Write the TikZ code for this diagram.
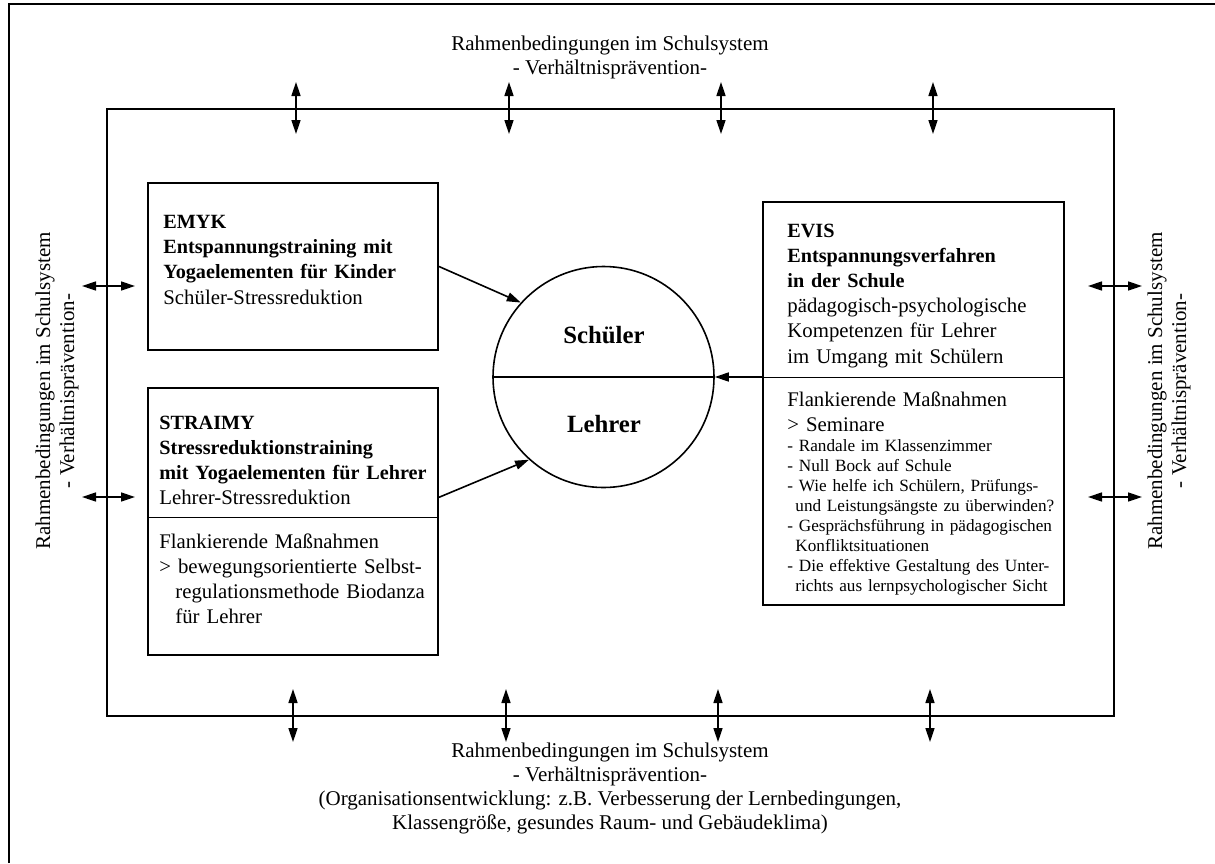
\documentclass[tikz,border=0pt]{standalone}
\usepackage{fontspec}
\setmainfont{Liberation Serif}
\usetikzlibrary{arrows.meta,calc}
\newcommand\myboldtext[1]{{\fontsize{10.1}{12.6}\selectfont\bfseries #1}}
\begin{document}
\begin{tikzpicture}[x=0.5pt,y=-0.5pt,
  tip/.style={-{Triangle[length=7pt,width=4.5pt]}, line width=0.8pt},
  dbl/.style={{Triangle[length=7pt,width=4.5pt]}-{Triangle[length=7pt,width=4.5pt]}, line width=0.8pt},
  box/.style={draw, line width=1pt, inner sep=0pt},
  txt/.style={anchor=base west, inner sep=0pt, text width=#1, align=left, font=\fontsize{10.4}{12.6}\selectfont},
  small/.style={anchor=base west, inner sep=0pt, text width=#1, align=left, font=\fontsize{8.6}{10}\selectfont},
  lbl/.style={align=center, inner sep=0pt, font=\fontsize{10.5}{12}\selectfont},
  divider/.style={line width=0.5pt}
]
\useasboundingbox (0,0) rectangle (1215,863);
% outer border (top and left)
\draw[line width=1.2pt] (9,863) -- (9,4) -- (1215,4);
% inner frame
\node[box, minimum width=503.5pt, minimum height=303.5pt] (frame) at (610.5,412.5) {};
% crossing arrows
\foreach \x in {296,509,721,933} \draw[dbl] (\x,82) -- (\x,134);
\foreach \x in {293,506,718,930} \draw[dbl] (\x,689) -- (\x,742);
\foreach \y in {286,497} \draw[dbl] (82,\y) -- (135,\y);
\foreach \y in {286,497} \draw[dbl] (1088,\y) -- (1142,\y);
% labels
\node[lbl] (toplbl) at (610,57) {Rahmenbedingungen im Schulsystem\\- Verhältnisprävention-};
\node[lbl] (botlbl) at (610,788) {Rahmenbedingungen im Schulsystem\\- Verhältnisprävention-\\(Organisationsentwicklung: z.B. Verbesserung der Lernbedingungen,\\Klassengröße, gesundes Raum- und Gebäudeklima)};
\node[lbl, rotate=90] (leftlbl) at (57,391) {Rahmenbedingungen im Schulsystem\\- Verhältnisprävention-};
\node[lbl, rotate=90] (rightlbl) at (1169,391) {Rahmenbedingungen im Schulsystem\\- Verhältnisprävention-};
% boxes
\node[box, minimum width=145pt, minimum height=83.5pt] (emyk) at (293,266.5) {};
\node[box, minimum width=145pt, minimum height=133.5pt] (straimy) at (293,521.5) {};
\node[box, minimum width=150.5pt, minimum height=201.5pt] (evis) at (913.5,403.5) {};
% circle
\node[draw, circle, line width=0.8pt, minimum size=110.5pt, inner sep=0pt] (circ) at (603.5,377) {};
\draw[line width=0.7pt] (circ.west) -- (circ.east);
\node[anchor=base, inner sep=0pt, font=\bfseries\fontsize{12.4}{14}\selectfont] (sch) at (604,343) {Schüler};
\node[anchor=base, inner sep=0pt, font=\bfseries\fontsize{12.4}{14}\selectfont] (leh) at (604,432) {Lehrer};
% dividers
\draw[divider] ($(straimy.north west)+(0,130)$) -- ($(straimy.north east)+(0,130)$);
\draw[divider] (circ.east -| evis.west) -- (circ.east -| evis.east);
% box texts
\node[txt=140pt] (emykt) at (163,228.5) {\myboldtext{EMYK}\\ \myboldtext{Entspannungstraining mit}\\ \myboldtext{Yogaelementen für Kinder}\\ Schüler-Stressreduktion};
\node[txt=140pt] (straimyt) at (159,429) {\myboldtext{STRAIMY}\\ \myboldtext{Stressreduktionstraining}\\ \myboldtext{mit Yogaelementen für Lehrer}\\ Lehrer-Stressreduktion};
\node[txt=140pt] (straimyf) at (159,548) {Flankierende Maßnahmen\\ > bewegungsorientierte Selbst-\\ \hspace*{8pt}regulationsmethode Biodanza\\ \hspace*{8pt}für Lehrer};
\node[txt=140pt] (evist) at (787,237) {\myboldtext{EVIS}\\ \myboldtext{Entspannungsverfahren}\\ \myboldtext{in der Schule}\\ pädagogisch-psychologische\\ Kompetenzen für Lehrer\\ im Umgang mit Schülern};
\node[txt=140pt] (evisf) at (787,406) {Flankierende Maßnahmen\\ > Seminare};
\node[small=140pt] (eviss) at (787,451) {- Randale im Klassenzimmer\\ - Null Bock auf Schule\\ - Wie helfe ich Schülern, Prüfungs-\\ \hspace*{4pt}und Leistungsängste zu überwinden?\\ - Gesprächsführung in pädagogischen\\ \hspace*{4pt}Konfliktsituationen\\ - Die effektive Gestaltung des Unter-\\ \hspace*{4pt}richts aus lernpsychologischer Sicht};
% connectors
\draw[tip] (emyk.east) -- (circ.138);
\draw[tip] ($(straimy.north east)!0.41!(straimy.south east)$) -- (circ.228);
\draw[tip] (circ.east -| evis.west) -- (circ.east);
\end{tikzpicture}
\end{document}
